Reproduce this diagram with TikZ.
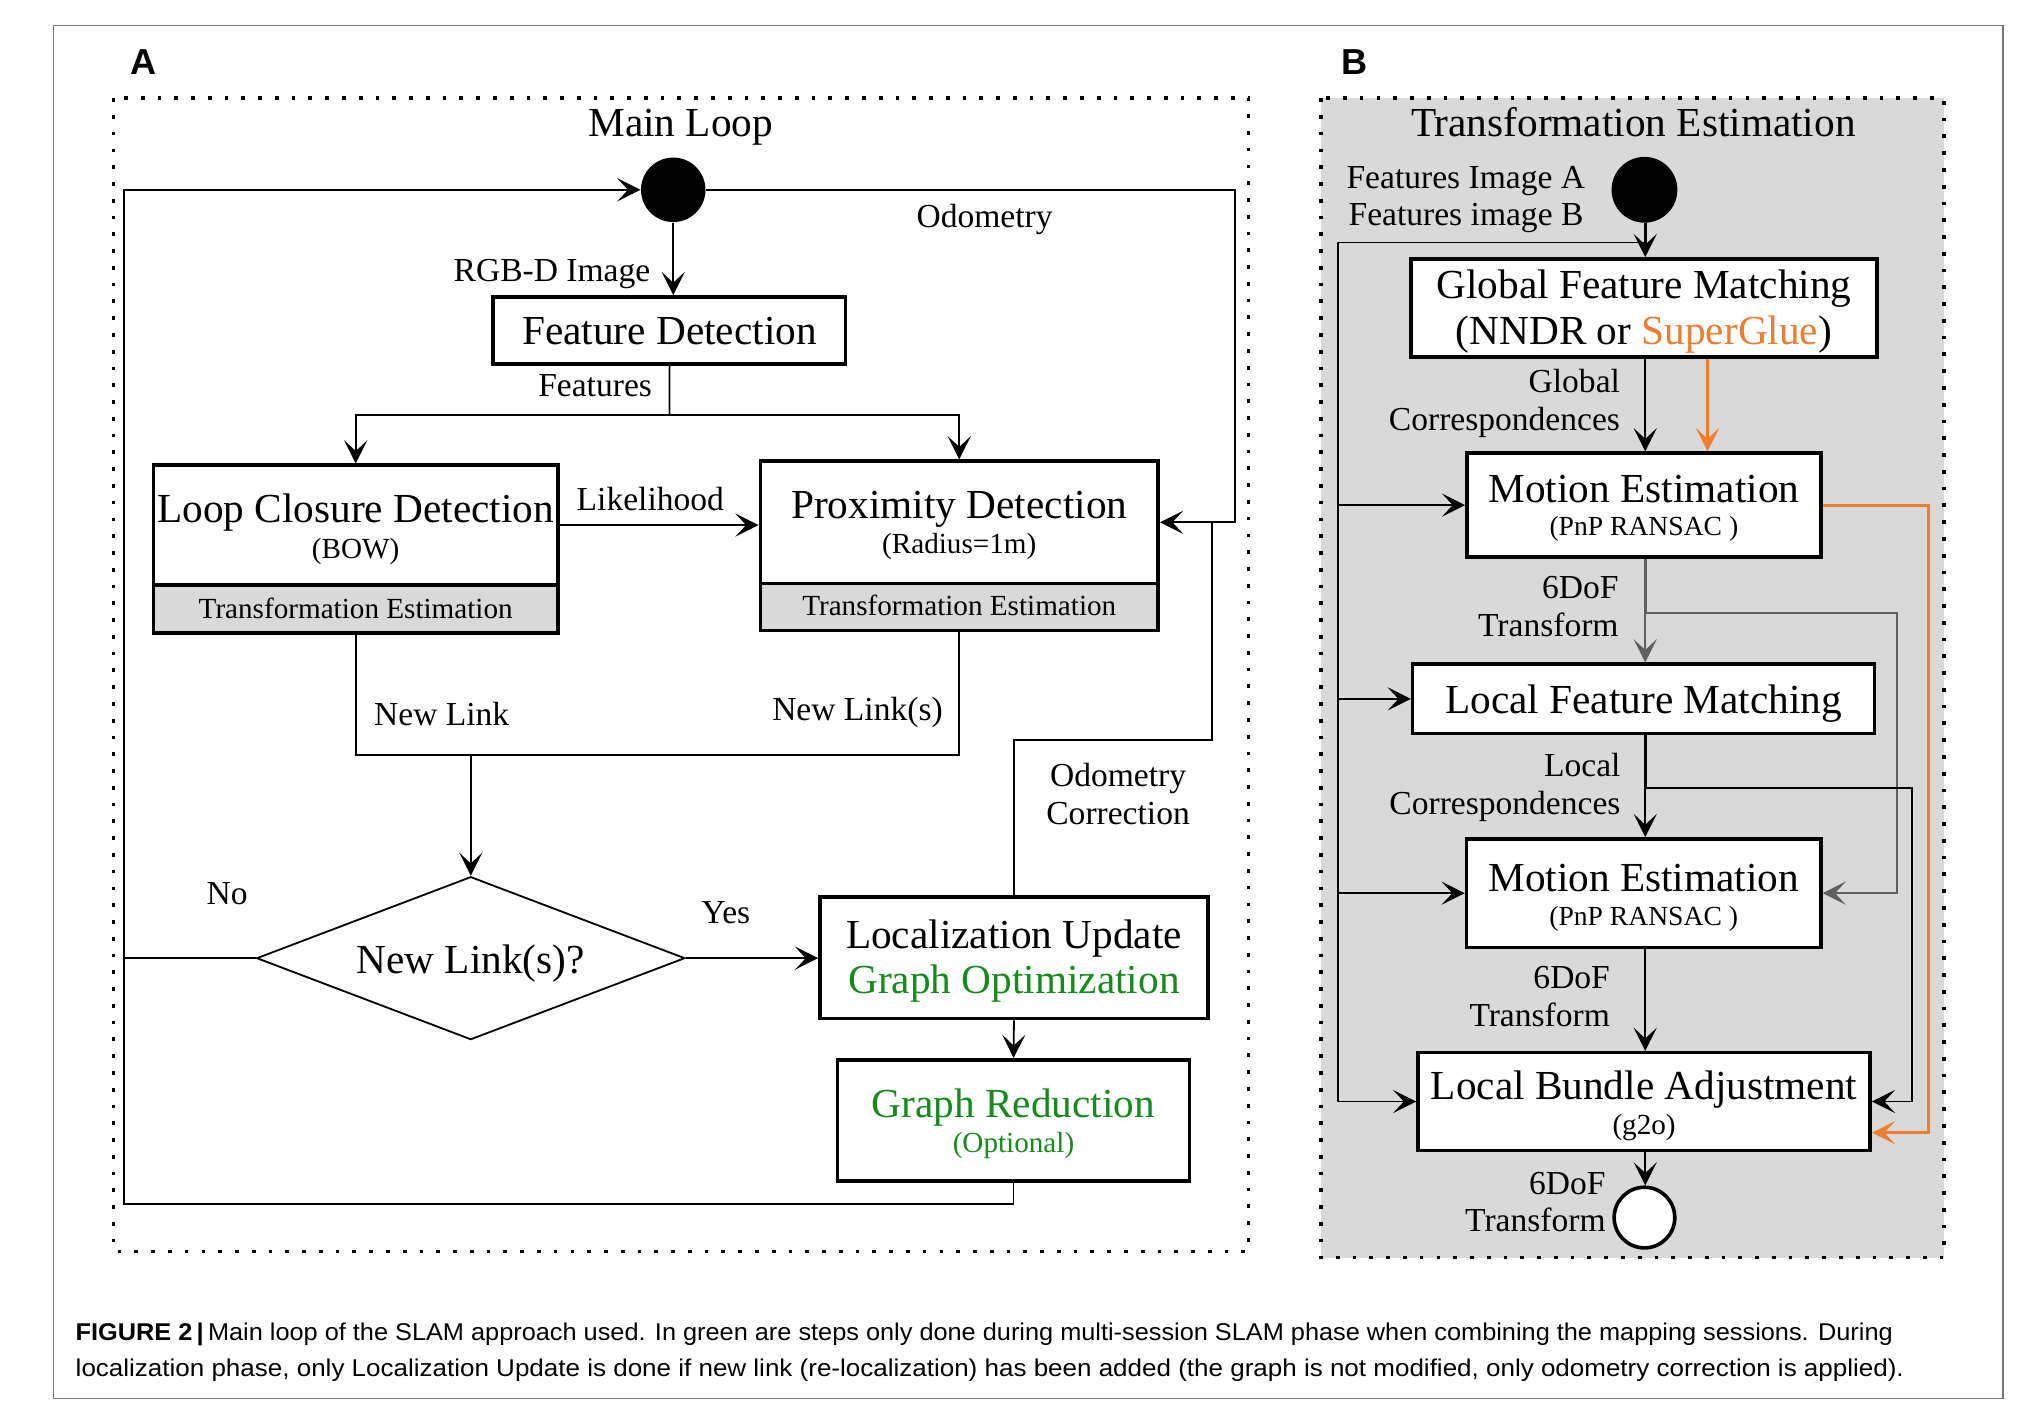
\documentclass[tikz,border=0pt]{standalone}
\usepackage{fontspec}
\setmainfont{Liberation Serif}
\newfontfamily\capfont{Liberation Sans}
\usepackage{graphicx}
\usetikzlibrary{arrows.meta,shapes.geometric,fit}
\definecolor{panelgray}{RGB}{217,217,217}
\definecolor{myorange}{RGB}{237,125,49}
\definecolor{mygreen}{RGB}{22,138,28}
\definecolor{arrgray}{RGB}{95,95,95}
\definecolor{framegray}{RGB}{120,120,120}
\newcommand\fBig{\fontsize{16pt}{19pt}\selectfont}
\newcommand\fLab{\fontsize{13pt}{15.6pt}\selectfont}
\newcommand\fSml{\fontsize{11.3pt}{13.6pt}\selectfont}
\newcommand\fPnp{\fontsize{10.7pt}{12.8pt}\selectfont}
\tikzset{
  tipst/.tip={Stealth[length=9pt,width=9pt,inset=4.2pt]},
  arr/.style={-tipst, line width=0.7pt, draw=black},
  ln/.style={line width=0.7pt, draw=black},
  grarr/.style={-tipst, line width=0.75pt, draw=arrgray},
  orarr/.style={-tipst, line width=1.2pt, draw=myorange},
  boxst/.style={draw=black, line width=1.4pt, inner sep=0pt, fill=white},
  stripst/.style={draw=black, line width=1.4pt, inner sep=0pt, fill=panelgray},
  dotframe/.style={draw=black, line width=1.45pt, dash pattern=on 1.45pt off 5.05pt},
  txt/.style={inner sep=0pt, anchor=base},
}
\begin{document}
\begin{tikzpicture}[x=0.5pt,y=-0.5pt]
\useasboundingbox (0,0) rectangle (1568,1105.3);
\fill[white] (0,0) rectangle (1568,1105.3);
\draw[framegray, line width=0.6pt] (41.5,19.7) rectangle (1552.3,1083.8);

% ---------------- Panel A ----------------
\node[txt, anchor=base west, font=\capfont\bfseries\fontsize{14pt}{16pt}\selectfont] (labA) at (100.8,58) {A};
\draw[dotframe] (88,76.1) rectangle (967.7,969.9);
\node[txt, font=\fBig] (mlt) at (527.6,105.5) {Main Loop};

\node[circle, fill=black, inner sep=0pt, minimum size=25pt] (startA) at (521.8,147.1) {};

\node[boxst, fit={(382.3,230.1) (655.4,282)}] (fd) {};
\node[txt, font=\fBig] (fdt) at (518.85,267.1) {Feature Detection};

\node[boxst, fit={(118.9,360.6) (432.5,453.3)}] (lcd) {};
\node[stripst, fit={(118.9,453.3) (432.5,490.6)}] (lcdte) {};
\node[txt, font=\fBig] (lcdt1) at (275.7,404.8) {Loop Closure Detection};
\node[txt, font=\fSml] (lcdt2) at (275.7,432.5) {(BOW)};
\node[txt, font=\fSml] (lcdt3) at (275.7,479.2) {Transformation Estimation};

\node[boxst, fit={(589.3,357.4) (897.7,452.2)}] (prox) {};
\node[stripst, fit={(589.3,452.2) (897.7,488.6)}] (proxte) {};
\node[txt, font=\fBig] (proxt1) at (743.5,402.1) {Proximity Detection};
\node[txt, font=\fSml] (proxt2) at (743.5,429.1) {(Radius=1m)};
\node[txt, font=\fSml] (proxt3) at (743.5,476.8) {Transformation Estimation};

\node[diamond, draw=black, line width=0.7pt, inner sep=0pt, minimum width=166pt, minimum height=63.15pt] (dec) at (364.9,742.65) {};
\node[txt, font=\fBig] (dect) at (364.9,754.5) {New Link(s)?};

\node[boxst, fit={(635.5,695.2) (936.3,789.5)}] (lu) {};
\node[txt, font=\fBig] (lut1) at (785.9,735) {Localization Update};
\node[txt, font=\fBig, text=mygreen] (lut2) at (785.9,770.2) {Graph Optimization};

\node[boxst, fit={(649.2,821.4) (921.9,915.4)}] (gr) {};
\node[txt, font=\fBig, text=mygreen] (grt1) at (785.55,866.4) {Graph Reduction};
\node[txt, font=\fSml, text=mygreen] (grt2) at (785.55,893.2) {(Optional)};

% connectors A
\coordinate (cBL) at (96.4,933);
\coordinate (cTR) at (957.4,147.1);
\coordinate (cOC) at (939.7,573.5);
\coordinate (cF) at (518.85,321.8);
\coordinate (cNL) at (364.9,585);
\draw[arr] (gr.south) |- (cBL) |- (startA.west);
\draw[ln] (dec.west) -- (dec.west -| cBL);
\draw[arr] (startA.east) -- (cTR) |- (prox.east);
\draw[ln] (lu.north) |- (cOC) -- (cOC |- prox.east);
\draw[arr] (startA.south) -- (startA.south |- fd.north);
\draw[ln] (fd.south) -- (cF);
\draw[arr] (cF) -| (lcd.north);
\draw[arr] (cF) -| (prox.north);
\draw[arr] (lcd.east) -- (lcd.east -| prox.west);
\draw[ln] (lcdte.south) |- (proxte.south |- cNL) -- (proxte.south);
\draw[arr] (cNL) -- (dec.north);
\draw[arr] (dec.east) -- (dec.east -| lu.west);
\draw[arr] (lu.south) -- (gr.north);

% labels A
\node[txt, anchor=base east, font=\fLab] (lRGB) at (504.4,218) {RGB-D Image};
\node[txt, anchor=base west, font=\fLab] (lOdo) at (710,176.5) {Odometry};
\node[txt, anchor=base east, font=\fLab] (lFeat) at (505.7,307.3) {Features};
\node[txt, anchor=base west, font=\fLab] (lLik) at (446.6,395.5) {Likelihood};
\node[txt, anchor=base west, font=\fLab] (lNL) at (289.6,562.1) {New Link};
\node[txt, anchor=base east, font=\fLab] (lNLs) at (731.1,558.2) {New Link(s)};
\node[txt, anchor=base west, font=\fLab] (lNo) at (159.7,700.7) {No};
\node[txt, anchor=base west, font=\fLab] (lYes) at (543.3,716.1) {Yes};
\node[txt, font=\fLab] (lOC1) at (866.6,609.4) {Odometry};
\node[txt, font=\fLab] (lOC2) at (866.6,638.7) {Correction};

% ---------------- Panel B ----------------
\node[txt, anchor=base west, font=\capfont\bfseries\fontsize{14pt}{16pt}\selectfont] (labB) at (1039,57.5) {B};
\fill[panelgray] (1024,76.1) rectangle (1506.8,974.7);
\draw[dotframe] (1024,76.1) rectangle (1506.8,974.7);
\node[txt, font=\fBig] (tet) at (1266,105.5) {Transformation Estimation};
\node[txt, anchor=base west, font=\fLab] (fiA) at (1043.3,146) {Features Image A};
\node[txt, anchor=base west, font=\fLab] (fiB) at (1044.9,174.7) {Features image B};

\node[circle, fill=black, inner sep=0pt, minimum size=25.5pt] (startB) at (1274.6,147.1) {};

\node[boxst, fit={(1093.4,200.7) (1455,276.8)}] (gfm) {};
\node[txt, font=\fBig] (gfmt1) at (1274.2,231.1) {Global Feature Matching};
\node[txt, font=\fBig] (gfmt2) at (1274.2,267.1) {(NNDR or \textcolor{myorange}{SuperGlue})};

\node[boxst, fit={(1137,351.2) (1411.3,431.8)}] (me1) {};
\node[txt, font=\fBig] (me1t1) at (1274.15,389.2) {Motion Estimation};
\node[txt, font=\fPnp] (me1t2) at (1274.15,415.2) {(PnP RANSAC\ )};

\node[boxst, fit={(1094.9,514.8) (1453,568.6)}] (lfm) {};
\node[txt, font=\fBig] (lfmt) at (1274,552.9) {Local Feature Matching};

\node[boxst, fit={(1136.7,650.2) (1411.3,734.3)}] (me2) {};
\node[txt, font=\fBig] (me2t1) at (1274,691) {Motion Estimation};
\node[txt, font=\fPnp] (me2t2) at (1274,717) {(PnP RANSAC\ )};

\node[boxst, fit={(1099.1,815.9) (1449.5,891.6)}] (lba) {};
\node[txt, font=\fBig] (lbat1) at (1274.3,851.8) {Local Bundle Adjustment};
\node[txt, font=\fSml] (lbat2) at (1274.3,879.2) {(g2o)};

\node[circle, draw=black, line width=1.4pt, fill=white, inner sep=0pt, minimum size=23.5pt] (endB) at (1274.6,943.7) {};

% connectors B
\coordinate (axB) at (1275.2,0);
\coordinate (cB1) at (1036.9,187.9);
\coordinate (cOx) at (1323.5,0);
\coordinate (cO2) at (1494.4,877.9);
\coordinate (cG) at (1470.3,475.1);
\coordinate (cK) at (1482.1,611);

\draw[arr, line width=1.15pt] (startB.south -| axB) -- (gfm.north -| axB);
\draw[arr] (cB1 -| axB) -- (cB1) |- (lba.west);
\draw[arr] (cB1 |- me1.west) -- (me1.west);
\draw[arr] (cB1 |- lfm.west) -- (lfm.west);
\draw[arr] (cB1 |- me2.west) -- (me2.west);

\draw[arr] (gfm.south -| axB) -- (me1.north -| axB);
\draw[orarr] (gfm.south -| cOx) -- (me1.north -| cOx);
\draw[orarr] (me1.east) -| (cO2) -- (cO2 -| lba.east);

\draw[line width=1.2pt, arrgray] (me1.south -| axB) -- (cG -| axB);
\draw[grarr] (cG -| axB) -- (lfm.north -| axB);
\draw[grarr] (cG -| axB) -- (cG) |- (me2.east);

\draw[line width=1.2pt] (lfm.south -| axB) -- (cK -| axB);
\draw[arr] (cK -| axB) -- (me2.north -| axB);
\draw[arr] (cK -| axB) -- (cK) |- (lba.east);

\draw[arr] (me2.south -| axB) -- (lba.north -| axB);
\draw[arr] (lba.south -| axB) -- (endB.north -| axB);

% labels B
\node[txt, anchor=base east, font=\fLab] (lG1) at (1256,304.5) {Global};
\node[txt, anchor=base east, font=\fLab] (lG2) at (1256,333.9) {Correspondences};
\node[txt, anchor=base east, font=\fLab] (l6a) at (1254.9,463.7) {6DoF};
\node[txt, anchor=base east, font=\fLab] (l6b) at (1254.9,493.1) {Transform};
\node[txt, anchor=base east, font=\fLab] (lL1) at (1256.4,601.9) {Local};
\node[txt, anchor=base east, font=\fLab] (lL2) at (1256.4,631.2) {Correspondences};
\node[txt, anchor=base east, font=\fLab] (l6c) at (1248.2,766) {6DoF};
\node[txt, anchor=base east, font=\fLab] (l6d) at (1248.2,795.3) {Transform};
\node[txt, anchor=base east, font=\fLab] (l6e) at (1244.9,925.8) {6DoF};
\node[txt, anchor=base east, font=\fLab] (l6f) at (1244.9,954.2) {Transform};

% ---------------- Caption ----------------
\node[txt, anchor=base west, font=\capfont\fontsize{9.4pt}{11pt}\selectfont] (cap1) at (58.3,1038.6)
  {\resizebox{704.2pt}{\height}{\textbf{FIGURE 2}\,\textbf{|}\,Main loop of the SLAM approach used. In green are steps only done during multi-session SLAM phase when combining the mapping sessions. During}};
\node[txt, anchor=base west, font=\capfont\fontsize{9.4pt}{11pt}\selectfont] (cap2) at (58.3,1066.5)
  {\resizebox{708.5pt}{\height}{localization phase, only Localization Update is done if new link (re-localization) has been added (the graph is not modified, only odometry correction is applied).}};
\end{tikzpicture}
\end{document}
